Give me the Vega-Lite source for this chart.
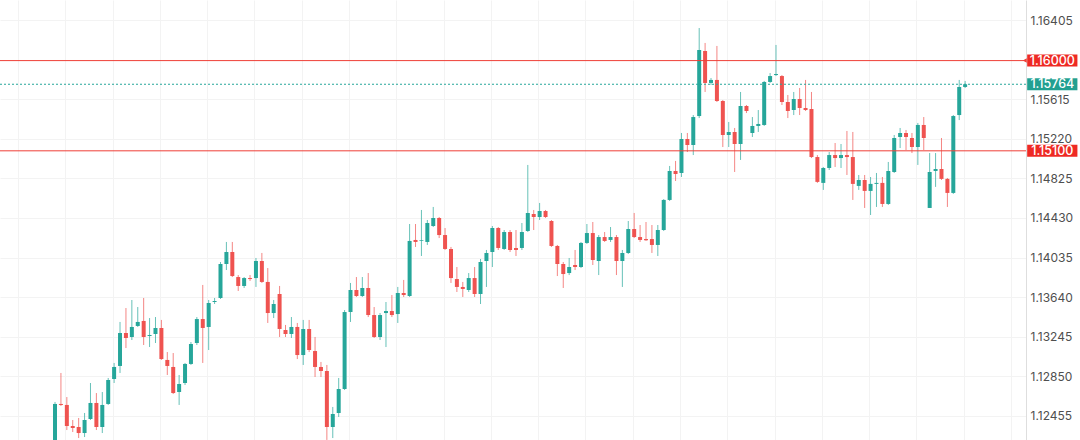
{
"$schema":"https://vega.github.io/schema/vega-lite/v6.json",
"width":1026,"height":440,
"autosize":"none",
"padding":{"left":0,"top":0,"right":54,"bottom":0},
"background":"#ffffff",
"config":{"view":{"stroke":null},"font":"Inter"},
"datasets":{
"candles":[
{"i":1,"o":1.11917,"h":1.12595,"l":1.11817,"c":1.12575},
{"i":2,"o":1.12575,"h":1.12884,"l":1.12555,"c":1.12565},
{"i":3,"o":1.12565,"h":1.12644,"l":1.12315,"c":1.12355},
{"i":4,"o":1.12355,"h":1.12415,"l":1.12295,"c":1.12335},
{"i":5,"o":1.12345,"h":1.12435,"l":1.12235,"c":1.12285},
{"i":6,"o":1.12285,"h":1.12485,"l":1.12245,"c":1.12415},
{"i":7,"o":1.12425,"h":1.12784,"l":1.12415,"c":1.12585},
{"i":8,"o":1.12585,"h":1.12684,"l":1.12315,"c":1.12345},
{"i":9,"o":1.12345,"h":1.12694,"l":1.12285,"c":1.12565},
{"i":10,"o":1.12575,"h":1.12834,"l":1.12565,"c":1.12814},
{"i":11,"o":1.12824,"h":1.12984,"l":1.12784,"c":1.12944},
{"i":12,"o":1.12954,"h":1.13393,"l":1.12884,"c":1.13283},
{"i":13,"o":1.13283,"h":1.13532,"l":1.13133,"c":1.13233},
{"i":14,"o":1.13243,"h":1.13612,"l":1.13213,"c":1.13343},
{"i":15,"o":1.13353,"h":1.13542,"l":1.13343,"c":1.13393},
{"i":16,"o":1.13403,"h":1.13632,"l":1.13163,"c":1.13243},
{"i":17,"o":1.13253,"h":1.13432,"l":1.13143,"c":1.13263},
{"i":18,"o":1.13273,"h":1.13442,"l":1.13183,"c":1.13333},
{"i":19,"o":1.13333,"h":1.13413,"l":1.13014,"c":1.13023},
{"i":20,"o":1.13014,"h":1.13093,"l":1.12864,"c":1.12954},
{"i":21,"o":1.12944,"h":1.13083,"l":1.12674,"c":1.12684},
{"i":22,"o":1.12694,"h":1.12864,"l":1.12565,"c":1.12774},
{"i":23,"o":1.12784,"h":1.12984,"l":1.12764,"c":1.12974},
{"i":24,"o":1.12974,"h":1.13193,"l":1.12964,"c":1.13173},
{"i":25,"o":1.13183,"h":1.13442,"l":1.13163,"c":1.13422},
{"i":26,"o":1.13422,"h":1.13762,"l":1.12984,"c":1.13333},
{"i":27,"o":1.13343,"h":1.13612,"l":1.13113,"c":1.13582},
{"i":28,"o":1.13592,"h":1.13632,"l":1.13572,"c":1.13602},
{"i":29,"o":1.13632,"h":1.13991,"l":1.13622,"c":1.13971},
{"i":30,"o":1.13971,"h":1.14191,"l":1.13911,"c":1.14091},
{"i":31,"o":1.14091,"h":1.14191,"l":1.13841,"c":1.13851},
{"i":32,"o":1.13841,"h":1.13861,"l":1.13702,"c":1.13752},
{"i":33,"o":1.13752,"h":1.13841,"l":1.13732,"c":1.13831},
{"i":34,"o":1.13831,"h":1.13861,"l":1.13802,"c":1.13821},
{"i":35,"o":1.13831,"h":1.14031,"l":1.13742,"c":1.14001},
{"i":36,"o":1.14001,"h":1.14081,"l":1.13782,"c":1.13792},
{"i":37,"o":1.13792,"h":1.13931,"l":1.13383,"c":1.13482},
{"i":38,"o":1.13482,"h":1.13612,"l":1.13432,"c":1.13572},
{"i":39,"o":1.13672,"h":1.13752,"l":1.13243,"c":1.13323},
{"i":40,"o":1.13313,"h":1.13363,"l":1.13243,"c":1.13273},
{"i":41,"o":1.13273,"h":1.13442,"l":1.13233,"c":1.13343},
{"i":42,"o":1.13343,"h":1.13383,"l":1.13023,"c":1.13063},
{"i":43,"o":1.13063,"h":1.13413,"l":1.12964,"c":1.13323},
{"i":44,"o":1.13323,"h":1.13413,"l":1.13093,"c":1.13113},
{"i":45,"o":1.13103,"h":1.13243,"l":1.12844,"c":1.12944},
{"i":46,"o":1.12944,"h":1.12994,"l":1.12844,"c":1.12904},
{"i":47,"o":1.12904,"h":1.12964,"l":1.12216,"c":1.12345},
{"i":48,"o":1.12345,"h":1.12545,"l":1.12235,"c":1.12475},
{"i":49,"o":1.12485,"h":1.12834,"l":1.12445,"c":1.12724},
{"i":50,"o":1.12724,"h":1.13512,"l":1.12714,"c":1.13492},
{"i":51,"o":1.13492,"h":1.13782,"l":1.13393,"c":1.13712},
{"i":52,"o":1.13712,"h":1.13841,"l":1.13642,"c":1.13652},
{"i":53,"o":1.13652,"h":1.13841,"l":1.13642,"c":1.13732},
{"i":54,"o":1.13732,"h":1.13881,"l":1.13442,"c":1.13462},
{"i":55,"o":1.13462,"h":1.13542,"l":1.13233,"c":1.13243},
{"i":56,"o":1.13243,"h":1.13482,"l":1.13213,"c":1.13462},
{"i":57,"o":1.13482,"h":1.13592,"l":1.13143,"c":1.13502},
{"i":58,"o":1.13502,"h":1.13662,"l":1.13442,"c":1.13462},
{"i":59,"o":1.13472,"h":1.13742,"l":1.13383,"c":1.13682},
{"i":60,"o":1.13682,"h":1.13812,"l":1.13642,"c":1.13662},
{"i":61,"o":1.13652,"h":1.1437,"l":1.13642,"c":1.14201},
{"i":62,"o":1.14211,"h":1.1437,"l":1.14141,"c":1.14191},
{"i":63,"o":1.14201,"h":1.1451,"l":1.14051,"c":1.14208},
{"i":64,"o":1.14191,"h":1.1441,"l":1.14161,"c":1.1438},
{"i":65,"o":1.1435,"h":1.1454,"l":1.1434,"c":1.1443},
{"i":66,"o":1.1443,"h":1.1444,"l":1.1423,"c":1.1426},
{"i":67,"o":1.1426,"h":1.1433,"l":1.14111,"c":1.14121},
{"i":68,"o":1.14121,"h":1.14141,"l":1.13782,"c":1.13831},
{"i":69,"o":1.13821,"h":1.13941,"l":1.13692,"c":1.13742},
{"i":70,"o":1.13742,"h":1.13792,"l":1.13642,"c":1.13722},
{"i":71,"o":1.13712,"h":1.13881,"l":1.13692,"c":1.13831},
{"i":72,"o":1.13831,"h":1.13941,"l":1.13642,"c":1.13672},
{"i":73,"o":1.13672,"h":1.14021,"l":1.13572,"c":1.13991},
{"i":74,"o":1.14001,"h":1.14111,"l":1.13742,"c":1.14081},
{"i":75,"o":1.14091,"h":1.1435,"l":1.13941,"c":1.1433},
{"i":76,"o":1.1433,"h":1.1434,"l":1.14111,"c":1.14131},
{"i":77,"o":1.14121,"h":1.1431,"l":1.14111,"c":1.1429},
{"i":78,"o":1.1429,"h":1.1431,"l":1.14091,"c":1.14111},
{"i":79,"o":1.14131,"h":1.1431,"l":1.14051,"c":1.14111},
{"i":80,"o":1.14131,"h":1.1438,"l":1.14111,"c":1.1429},
{"i":81,"o":1.143,"h":1.14959,"l":1.1429,"c":1.1448},
{"i":82,"o":1.1447,"h":1.1451,"l":1.1431,"c":1.1444},
{"i":83,"o":1.1444,"h":1.1458,"l":1.1441,"c":1.145},
{"i":84,"o":1.145,"h":1.1451,"l":1.1443,"c":1.1444},
{"i":85,"o":1.144,"h":1.1441,"l":1.14141,"c":1.14151},
{"i":86,"o":1.14151,"h":1.14161,"l":1.13851,"c":1.13971},
{"i":87,"o":1.13971,"h":1.13991,"l":1.13732,"c":1.13871},
{"i":88,"o":1.13881,"h":1.14031,"l":1.13861,"c":1.13941},
{"i":89,"o":1.13961,"h":1.14111,"l":1.13911,"c":1.13941},
{"i":90,"o":1.13941,"h":1.14191,"l":1.13931,"c":1.14181},
{"i":91,"o":1.14181,"h":1.1437,"l":1.14171,"c":1.1428},
{"i":92,"o":1.1428,"h":1.1439,"l":1.13961,"c":1.14011},
{"i":93,"o":1.14001,"h":1.1426,"l":1.13861,"c":1.1424},
{"i":94,"o":1.1424,"h":1.1429,"l":1.14191,"c":1.14201},
{"i":95,"o":1.14211,"h":1.1434,"l":1.14191,"c":1.1424},
{"i":96,"o":1.1424,"h":1.1426,"l":1.13861,"c":1.14001},
{"i":97,"o":1.14001,"h":1.14111,"l":1.13742,"c":1.14081},
{"i":98,"o":1.14081,"h":1.144,"l":1.14071,"c":1.1432},
{"i":99,"o":1.1432,"h":1.1448,"l":1.1423,"c":1.1424},
{"i":100,"o":1.1424,"h":1.1436,"l":1.14191,"c":1.14211},
{"i":101,"o":1.1422,"h":1.1439,"l":1.14201,"c":1.14208},
{"i":102,"o":1.1422,"h":1.1436,"l":1.14081,"c":1.14161},
{"i":103,"o":1.14161,"h":1.1436,"l":1.14051,"c":1.1431},
{"i":104,"o":1.1431,"h":1.14619,"l":1.143,"c":1.1461},
{"i":105,"o":1.1461,"h":1.14949,"l":1.146,"c":1.14899},
{"i":106,"o":1.14899,"h":1.14999,"l":1.14799,"c":1.14869},
{"i":107,"o":1.14879,"h":1.15278,"l":1.14839,"c":1.15218},
{"i":108,"o":1.15218,"h":1.15278,"l":1.15088,"c":1.15158},
{"i":109,"o":1.15158,"h":1.15457,"l":1.15058,"c":1.15437},
{"i":110,"o":1.15447,"h":1.16325,"l":1.15427,"c":1.16106},
{"i":111,"o":1.16096,"h":1.16176,"l":1.15687,"c":1.15777},
{"i":112,"o":1.15777,"h":1.15826,"l":1.15757,"c":1.15807},
{"i":113,"o":1.15807,"h":1.16146,"l":1.15587,"c":1.15597},
{"i":114,"o":1.15597,"h":1.15607,"l":1.15138,"c":1.15258},
{"i":115,"o":1.15258,"h":1.15388,"l":1.15138,"c":1.15288},
{"i":116,"o":1.15288,"h":1.15328,"l":1.14889,"c":1.15168},
{"i":117,"o":1.15168,"h":1.15687,"l":1.15009,"c":1.15547},
{"i":118,"o":1.15547,"h":1.15557,"l":1.15477,"c":1.15497},
{"i":119,"o":1.15278,"h":1.15437,"l":1.15238,"c":1.15348},
{"i":120,"o":1.15348,"h":1.15507,"l":1.15288,"c":1.15368},
{"i":121,"o":1.15358,"h":1.15797,"l":1.15348,"c":1.15787},
{"i":122,"o":1.15787,"h":1.15876,"l":1.15777,"c":1.15846},
{"i":123,"o":1.15856,"h":1.16156,"l":1.15846,"c":1.15866},
{"i":124,"o":1.15846,"h":1.15856,"l":1.15557,"c":1.15587},
{"i":125,"o":1.15587,"h":1.15657,"l":1.15427,"c":1.15497},
{"i":126,"o":1.15507,"h":1.15687,"l":1.15457,"c":1.15617},
{"i":127,"o":1.15617,"h":1.15727,"l":1.15457,"c":1.15527},
{"i":128,"o":1.15527,"h":1.15807,"l":1.15497,"c":1.15507},
{"i":129,"o":1.15517,"h":1.15687,"l":1.15028,"c":1.15038},
{"i":130,"o":1.15038,"h":1.15058,"l":1.1478,"c":1.1479},
{"i":131,"o":1.1478,"h":1.14939,"l":1.1471,"c":1.14929},
{"i":132,"o":1.14929,"h":1.15088,"l":1.14909,"c":1.15058},
{"i":133,"o":1.15058,"h":1.15178,"l":1.14939,"c":1.15028},
{"i":134,"o":1.15028,"h":1.15168,"l":1.14929,"c":1.15058},
{"i":135,"o":1.15058,"h":1.15298,"l":1.14859,"c":1.15038},
{"i":136,"o":1.15038,"h":1.15288,"l":1.1461,"c":1.1477},
{"i":137,"o":1.1475,"h":1.14859,"l":1.1471,"c":1.14809},
{"i":138,"o":1.14809,"h":1.14859,"l":1.1453,"c":1.147},
{"i":139,"o":1.147,"h":1.14839,"l":1.1446,"c":1.1477},
{"i":140,"o":1.1477,"h":1.14879,"l":1.1454,"c":1.1478},
{"i":141,"o":1.1478,"h":1.14839,"l":1.1454,"c":1.1457},
{"i":142,"o":1.1457,"h":1.14989,"l":1.1456,"c":1.14899},
{"i":143,"o":1.14889,"h":1.15258,"l":1.14879,"c":1.15228},
{"i":144,"o":1.15238,"h":1.15328,"l":1.15128,"c":1.15278},
{"i":145,"o":1.15278,"h":1.15308,"l":1.15108,"c":1.15238},
{"i":146,"o":1.15228,"h":1.15278,"l":1.15078,"c":1.15138},
{"i":147,"o":1.15138,"h":1.15378,"l":1.14959,"c":1.15358},
{"i":148,"o":1.15358,"h":1.15437,"l":1.15108,"c":1.15228},
{"i":149,"o":1.1453,"h":1.15078,"l":1.1453,"c":1.14889},
{"i":150,"o":1.14899,"h":1.15078,"l":1.1474,"c":1.14919},
{"i":151,"o":1.14919,"h":1.15228,"l":1.14809,"c":1.1482},
{"i":152,"o":1.1482,"h":1.14829,"l":1.1454,"c":1.1468},
{"i":153,"o":1.1468,"h":1.15457,"l":1.1467,"c":1.15447},
{"i":154,"o":1.15457,"h":1.15807,"l":1.15407,"c":1.15737},
{"i":155,"o":1.15737,"h":1.15797,"l":1.15727,"c":1.15764}
],
"tags":[
{"p":1.16,"t":"1.16000","k":"r"},
{"p":1.15764,"t":"1.15764","k":"g"},
{"p":1.151,"t":"1.15100","k":"r"}
]
},
"layer":[
{"data":{"name":"candles"},
 "mark":{"type":"rule","clip":true,"strokeWidth":1},
 "encoding":{
  "x":{"field":"i","type":"quantitative","scale":{"domain":[-8.31,165.3],"nice":false,"zero":false,"padding":0},
       "axis":{"values":[-5.25,2.75,10.75,18.75,26.75,34.75,42.75,50.75,58.75,66.75,74.75,82.75,90.75,98.75,106.75,114.75,122.75,130.75,138.75,146.75,154.75,162.75],"labels":false,"ticks":false,"domain":false,"title":null,"grid":true,"gridColor":"#f3f3f3"}},
  "y":{"field":"l","type":"quantitative","scale":{"domain":[1.122155,1.166045],"nice":false,"zero":false,"padding":0},
       "axis":{"orient":"right","values":[1.12455,1.1285,1.13245,1.1364,1.14035,1.1443,1.14825,1.1522,1.15615,1.16405],"format":".5f","title":null,"grid":true,"gridColor":"#f3f3f3","domainColor":"#dedede","ticks":false,"labelColor":"#4f4f4f","labelFont":"Inter","labelFontSize":12,"labelPadding":4,"labelOverlap":false,"labelBound":false}},
  "y2":{"field":"h"},
  "color":{"condition":{"test":"datum.c >= datum.o","value":"#26a69a"},"value":"#ef5350"},
  "opacity":{"value":0.7}
 }},
{"data":{"name":"candles"},
 "mark":{"type":"bar","width":4,"clip":true},
 "encoding":{
  "x":{"field":"i","type":"quantitative"},
  "y":{"field":"o","type":"quantitative"},
  "y2":{"field":"c"},
  "color":{"condition":{"test":"datum.c >= datum.o","value":"#26a69a"},"value":"#ef5350"}
 }},
{"data":{"name":"tags"},
 "transform":[{"filter":"datum.k == 'r'"}],
 "mark":{"type":"rule","color":"#ef3f37","strokeWidth":1},
 "encoding":{"y":{"field":"p","type":"quantitative"}}},
{"data":{"name":"tags"},
 "transform":[{"filter":"datum.k == 'g'"}],
 "mark":{"type":"rule","color":"#26a69a","strokeWidth":1,"strokeDash":[2,2]},
 "encoding":{"y":{"field":"p","type":"quantitative"}}},
{"data":{"name":"tags"},
 "transform":[{"filter":"datum.p == 1.16"}],
 "mark":{"type":"point","shape":"triangle-left","filled":true,"size":20,"color":"#ef3f37","opacity":1},
 "encoding":{"x":{"datum":165.1},"y":{"field":"p","type":"quantitative"}}},
{"data":{"name":"tags"},
 "mark":{"type":"rect","height":12},
 "encoding":{
  "x":{"datum":165.5},"x2":{"datum":174.0},
  "y":{"field":"p","type":"quantitative"},
  "color":{"field":"k","type":"nominal","scale":{"domain":["r","g"],"range":["#ee2a24","#22a091"]},"legend":null}
 }},
{"data":{"name":"tags"},
 "mark":{"type":"text","color":"#ffffff","font":"Inter","fontSize":12.5,"fontWeight":500,"align":"center","baseline":"middle"},
 "encoding":{
  "x":{"datum":169.75},
  "y":{"field":"p","type":"quantitative"},
  "text":{"field":"t"}
 }}
]
}
